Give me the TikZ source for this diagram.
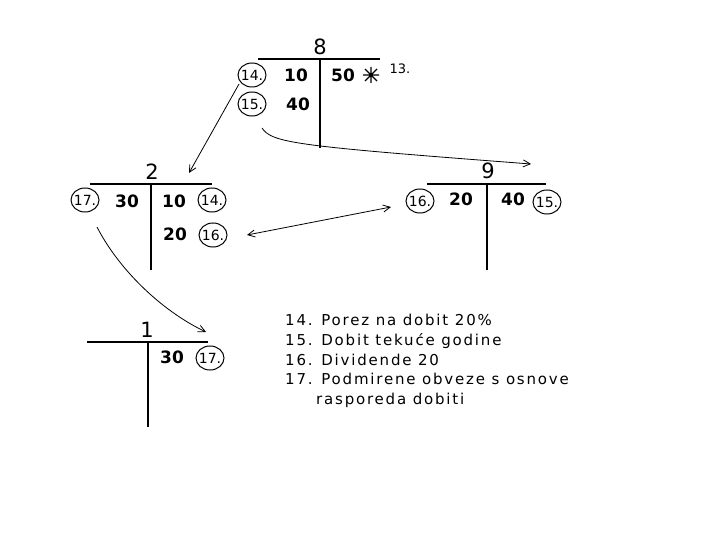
\documentclass[tikz,border=0pt]{standalone}
\usepackage{fontspec}
\setmainfont{DejaVu Sans}
\usetikzlibrary{arrows.meta,shapes.geometric}

\begin{document}
\begin{tikzpicture}[
  x=1pt, y=-1pt,
  >={Straight Barb[length=7pt,width=7pt]},
  title/.style={font=\fontsize{21}{21}\selectfont, inner sep=0pt},
  amount/.style={font=\fontsize{17}{17}\selectfont\bfseries, inner sep=0pt},
  ref/.style={draw, line width=1pt, ellipse, minimum width=28pt, minimum height=24pt,
    inner xsep=-3pt, inner ysep=0pt, font=\fontsize{14}{14}\selectfont},
  tline/.style={line width=1.2pt},
  link/.style={line width=0.8pt},
  legend/.style={font=\fontsize{15}{19.8}\selectfont\addfontfeature{LetterSpace=12},
    align=left, anchor=north west, inner sep=0pt}
]
  \useasboundingbox (0,0) rectangle (720,540);

  % Account 8
  \node[title] (t8) at (320,47) {8};
  \draw[tline] (258,59) -- (380,59) (320,59) -- (320,148);
  \node[ref] (r8a) at (252,75) {14.};
  \node[amount] (d8a) at (296,75) {10};
  \node[amount] (c8a) at (343,75) {50};
  \node[ref] (r8b) at (252,104) {15.};
  \node[amount] (d8b) at (298,104) {40};
  \draw[line width=1.2pt] (371,67) -- (371,83) (363,75) -- (379,75)
    (365,69) -- (377,81) (365,81) -- (377,69);
  \node[font=\fontsize{13}{13}\selectfont, inner sep=0pt] (n13) at (400,69) {13.};

  % Account 2
  \node[title] (t2) at (152,172) {2};
  \draw[tline] (90,184) -- (212,184) (151,184) -- (151,270);
  \node[ref] (r2a) at (85,200) {17.};
  \node[amount] (d2a) at (127,201) {30};
  \node[amount] (c2a) at (174,201) {10};
  \node[ref] (r2b) at (212,200) {14.};
  \node[amount] (c2b) at (175,234) {20};
  \node[ref] (r2c) at (213,235) {16.};

  % Account 9
  \node[title] (t9) at (488,171) {9};
  \draw[tline] (427,184) -- (546,184) (487,184) -- (487,270);
  \node[ref] (r9a) at (420,201) {16.};
  \node[amount] (d9a) at (461,199) {20};
  \node[amount] (c9a) at (513,199) {40};
  \node[ref] (r9b) at (547,202) {15.};

  % Account 1
  \node[title] (t1) at (147,330) {1};
  \draw[tline] (87,342) -- (208,342) (148,342) -- (148,427);
  \node[amount] (c1a) at (172,357) {30};
  \node[ref] (r1a) at (210,358) {17.};

  % Transfers
  \coordinate (s1) at (239,84);
  \coordinate (e1) at (189,173);
  \draw[link, ->] (s1) -- (e1);
  \coordinate (s2) at (262,128);
  \coordinate (e2) at (531,164);
  \draw[link, ->] (s2) .. controls (272,143) and (295,146) .. (e2);
  \coordinate (s3) at (247,235);
  \coordinate (e3) at (391,207);
  \draw[link, <->] (s3) -- (e3);
  \coordinate (s4) at (97,227);
  \coordinate (e4) at (206,332);
  \draw[link, ->] (s4) .. controls (118,268) and (160,310) .. (e4);

  % Legend
  \node[legend] (key) at (285,314) {14. Porez na dobit 20\%\\
    15. Dobit tekuće godine\\
    16. Dividende 20\\
    17. Podmirene obveze s osnove\\
    \hspace*{31pt}rasporeda dobiti};
\end{tikzpicture}
\end{document}
